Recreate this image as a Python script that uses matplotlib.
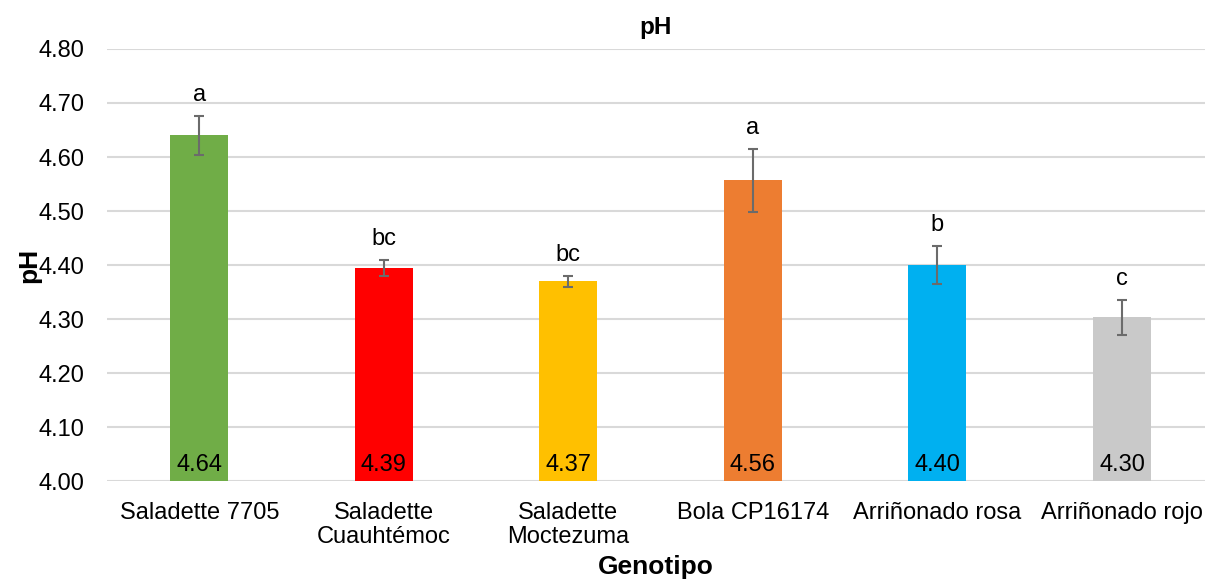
import matplotlib.pyplot as plt

plt.rcParams["font.family"] = ["Liberation Sans", "DejaVu Sans"]

genotipos = ["Saladette 7705", "Saladette\nCuauhtémoc", "Saladette\nMoctezuma",
             "Bola CP16174", "Arriñonado rosa", "Arriñonado rojo"]
ph = [4.64, 4.394, 4.37, 4.557, 4.40, 4.303]
err = [0.036, 0.015, 0.010, 0.058, 0.036, 0.032]
letras = ["a", "bc", "bc", "a", "b", "c"]
colores = ["#70ad47", "#ff0000", "#ffc000", "#ed7d31", "#00b0f0", "#c9c9c9"]


def main():
    fig = plt.figure(figsize=(12.05, 5.81), dpi=100)
    ax = fig.add_axes([0.0888, 0.172, 0.9112, 0.7437])
    x = range(len(genotipos))
    ax.bar(x, [v - 4.0 for v in ph], bottom=4.0, width=0.315, color=colores, zorder=2)
    ax.errorbar(x, ph, yerr=err, fmt="none", ecolor="#6b6b6b", elinewidth=1.5,
                capsize=3.5, capthick=1.5, zorder=3)
    for i, (v, e, l) in enumerate(zip(ph, err, letras)):
        ax.annotate(l, (i, v + e), xytext=(0, 7), textcoords="offset points",
                    ha="center", va="bottom", fontsize=17)
        ax.text(i, 4.01, f"{v:.2f}", ha="center", va="bottom", fontsize=17)

    ax.set_ylim(4.0, 4.8)
    ax.set_xlim(-0.5, 5.45)
    ax.set_yticks([4.0 + 0.1 * k for k in range(9)])
    ax.set_yticklabels([f"{4.0 + 0.1 * k:.2f}" for k in range(9)])
    ax.set_xticks(list(x))
    ax.set_xticklabels(genotipos, linespacing=1.1)
    ax.tick_params(axis="both", length=0, labelsize=17)
    ax.tick_params(axis="x", pad=15)
    ax.tick_params(axis="y", pad=16)
    ax.grid(axis="y", color="#d9d9d9", linewidth=1.5, zorder=0)
    ax.set_axisbelow(True)
    for s in ax.spines.values():
        s.set_visible(False)

    ax.set_title("pH", fontsize=17.5, fontweight="bold", pad=11)
    ax.set_ylabel("pH", fontsize=19, fontweight="bold", labelpad=-2)
    ax.set_xlabel("Genotipo", fontsize=19, fontweight="bold", labelpad=5)
    fig.savefig("out.png")


if __name__ == "__main__":
    main()
